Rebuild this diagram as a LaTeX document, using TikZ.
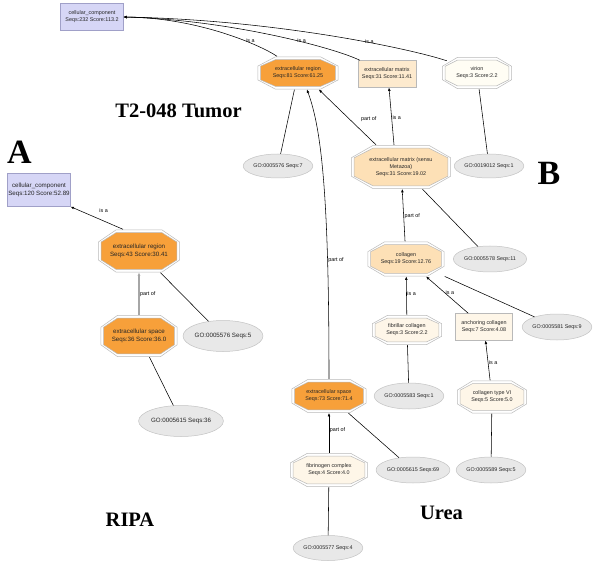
\documentclass[tikz,border=0pt]{standalone}
\usepackage{fontspec}
\setmainfont{Liberation Serif}
\newfontfamily\gvsans{Liberation Sans}
\usetikzlibrary{arrows.meta,shapes.geometric,calc}

\definecolor{ccfill}{RGB}{214,214,246}
\definecolor{ccline}{RGB}{160,160,200}
\definecolor{orangefill}{RGB}{247,160,58}
\definecolor{peachfill}{RGB}{253,224,182}
\definecolor{matfill}{RGB}{253,234,206}
\definecolor{creamfill}{RGB}{254,246,232}
\definecolor{ivoryfill}{RGB}{255,253,244}
\definecolor{gofill}{RGB}{232,232,232}
\definecolor{goline}{RGB}{195,195,195}
\definecolor{octline}{RGB}{185,185,185}

\newcommand\octring[2]{%
	\path[#2] let \p1=(path picture bounding box.south west),
		\p2=(path picture bounding box.north east),
		\p3=({0.22*(\x2-\x1)},{0.29*(\y2-\y1)}) in
		(\x1+#1,\y1+\y3) -- (\x1+#1,\y2-\y3) -- (\x1+\x3,\y2-#1) -- (\x2-\x3,\y2-#1)
		-- (\x2-#1,\y2-\y3) -- (\x2-#1,\y1+\y3) -- (\x2-\x3,\y1+#1) -- (\x1+\x3,\y1+#1) -- cycle;}

\tikzset{
	gotext/.style={font=\gvsans\fontsize{5.4}{6.8}\selectfont, text=black!85, align=center, inner sep=0pt},
	ripatext/.style={font=\gvsans\fontsize{6.2}{7.6}\selectfont},
	octnode/.style={gotext, rectangle, path picture={\octring{.4pt}{draw=octline,line width=.5pt}\octring{3.2pt}{fill=#1,draw=octline,line width=.5pt}}},
	boxnode/.style={gotext, rectangle, fill=#1, draw=octline, line width=.5pt},
	gonode/.style={gotext, ellipse, fill=gofill, draw=goline, line width=.5pt},
	rel/.style={line width=.55pt, -{Triangle[length=3.2pt,width=2.4pt]}},
	annot/.style={line width=.55pt},
	lbl/.style={font=\gvsans\fontsize{5.4}{6}\selectfont, inner sep=.6pt},
	panel/.style={font=\bfseries\fontsize{20.5}{22}\selectfont, inner sep=0pt},
	bigletter/.style={font=\bfseries\fontsize{34}{36}\selectfont, inner sep=0pt},
}

\begin{document}
\begin{tikzpicture}[x=1pt,y=1pt]
	\fill[white] (0,0) rectangle (600,-564);
	\useasboundingbox (0,0) rectangle (600,-564);

	\node[boxnode=ccfill, draw=ccline, minimum width=63pt, minimum height=27pt] (cc_t) at (92,-17) {cellular\_component\\Seqs:232 Score:113.2};
	\node[octnode=orangefill, minimum width=81pt, minimum height=33pt] (er_t) at (298,-73) {extracellular region\\Seqs:81 Score:61.25};
	\node[boxnode=matfill, minimum width=58pt, minimum height=27pt] (em_t) at (387,-74) {extracellular matrix\\Seqs:31 Score:11.41};
	\node[octnode=ivoryfill, minimum width=70pt, minimum height=32pt] (virion) at (477,-73) {virion\\Seqs:3 Score:2.2};
	\node[gonode, minimum width=69pt, minimum height=24pt] (go_t5576) at (278,-166) {GO:0005576 Seqs:7};
	\node[octnode=peachfill, minimum width=100pt, minimum height=44pt] (emm) at (401,-167) {extracellular matrix (sensu\\Metazoa)\\Seqs:31 Score:19.02};
	\node[gonode, minimum width=61pt, minimum height=24pt] (go_19012) at (489,-166) {GO:0019012 Seqs:1};
	\node[octnode=peachfill, minimum width=77pt, minimum height=35pt] (collagen) at (406,-259) {collagen\\Seqs:19 Score:12.76};
	\node[gonode, minimum width=64pt, minimum height=26pt] (go_5578) at (490,-259) {GO:0005578 Seqs:11};
	\node[octnode=creamfill, minimum width=70pt, minimum height=30pt] (fibrillar) at (407,-330) {fibrillar collagen\\Seqs:3 Score:2.2};
	\node[boxnode=creamfill, minimum width=57pt, minimum height=27pt] (anchoring) at (484,-327) {anchoring collagen\\Seqs:7 Score:4.08};
	\node[gonode, minimum width=65pt, minimum height=26pt] (go_5581) at (557,-327) {GO:0005581 Seqs:9};
	\node[gonode, minimum width=64pt, minimum height=26pt] (go_5583) at (409,-396) {GO:0005583 Seqs:1};
	\node[octnode=creamfill, minimum width=70pt, minimum height=33pt] (coltypeVI) at (492,-397) {collagen type VI\\Seqs:5 Score:5.0};
	\node[gonode, minimum width=62pt, minimum height=26pt] (go_5589) at (491,-470) {GO:0005589 Seqs:5};
	\node[octnode=orangefill, minimum width=75pt, minimum height=34pt] (es_t) at (329,-396) {extracellular space\\Seqs:73 Score:71.4};
	\node[gonode, minimum width=67pt, minimum height=26pt] (go_t5615) at (413,-470) {GO:0005615 Seqs:69};
	\node[octnode=creamfill, minimum width=78pt, minimum height=34pt] (fibrinogen) at (329,-470) {fibrinogen complex\\Seqs:4 Score:4.0};
	\node[gonode, minimum width=65pt, minimum height=25pt] (go_5577) at (328,-548) {GO:0005577 Seqs:4};

	\node[boxnode=ccfill, draw=ccline, ripatext, minimum width=63pt, minimum height=33pt] (cc_r) at (39,-190) {cellular\_component\\Seqs:120 Score:52.89};
	\node[octnode=orangefill, ripatext, minimum width=82pt, minimum height=43pt] (er_r) at (139,-251) {extracellular region\\Seqs:43 Score:30.41};
	\node[octnode=orangefill, ripatext, minimum width=77pt, minimum height=42pt] (es_r) at (139,-336) {extracellular space\\Seqs:36 Score:36.0};
	\node[gonode, ripatext, minimum width=65pt, minimum height=31pt] (go_r5576) at (223,-336) {GO:0005576 Seqs:5};
	\node[gonode, ripatext, minimum width=68pt, minimum height=31pt] (go_r5615) at (181,-421) {GO:0005615 Seqs:36};

	\draw[rel] ([xshift=-21pt]er_t.north) .. controls (262,-46) and (200,-18) .. (cc_t.east) node[lbl,pos=.35,anchor=west]{is a};
	\draw[rel] ([xshift=2pt]em_t.north west) .. controls (335,-48) and (230,-20) .. (cc_t.east) node[lbl,pos=.4,anchor=west]{is a};
	\draw[rel] ([xshift=5pt,yshift=-4pt]virion.north west) .. controls (415,-50) and (280,-20) .. (cc_t.east) node[lbl,pos=.4,anchor=west]{is a};
	\draw[rel] (es_t.north) .. controls (329,-200) and (322,-130) .. ([xshift=9pt]er_t.south) node[lbl,pos=.26,anchor=west]{part of};
	\draw[rel] ([xshift=-25pt]emm.north) -- node[lbl,pos=.47,right=11pt]{part of} ([xshift=21pt]er_t.south);
	\draw[rel] ([xshift=-7pt]emm.north) -- node[lbl,pos=.47,anchor=west]{is a} ([xshift=2pt]em_t.south);
	\draw[rel] (collagen) -- node[lbl,pos=.49,anchor=west]{part of} (emm);
	\draw[rel] (fibrillar) -- node[lbl,pos=.57,anchor=west]{is a} (collagen);
	\draw[rel] (anchoring) -- node[lbl,pos=.56,anchor=west]{is a} (collagen);
	\draw[rel] (coltypeVI) -- node[lbl,pos=.46,anchor=west]{is a} (anchoring);
	\draw[rel] (fibrinogen) -- node[lbl,pos=.58,anchor=west]{part of} (es_t);

	\draw[annot] (er_t) -- (go_t5576);
	\draw[annot] (virion) -- (go_19012);
	\draw[annot] (emm) -- (go_5578);
	\draw[annot] (collagen) -- (go_5581);
	\draw[annot] (fibrillar) -- (go_5583);
	\draw[annot] (coltypeVI) -- (go_5589);
	\draw[annot] (es_t) -- (go_t5615);
	\draw[annot] (fibrinogen) -- (go_5577);

	\draw[rel] ([xshift=-16pt]er_r.north) -- node[lbl,pos=.37,above=8pt]{is a} (cc_r.south east);
	\draw[rel,draw=gray!70,line width=1.1pt] (es_r) -- node[lbl,pos=.49,anchor=west]{part of} (er_r);
	\draw[annot] (er_r) -- (go_r5576);
	\draw[annot] (es_r) -- (go_r5615);

	\node[panel] (tumor) at (178.5,-111) {T2-048 Tumor};
	\node[panel] (ripa) at (130,-520) {RIPA};
	\node[panel] (urea) at (441.5,-512.5) {Urea};
	\node[bigletter] (pa) at (19.5,-152) {A};
	\node[bigletter] (pb) at (549,-173) {B};
\end{tikzpicture}
\end{document}
